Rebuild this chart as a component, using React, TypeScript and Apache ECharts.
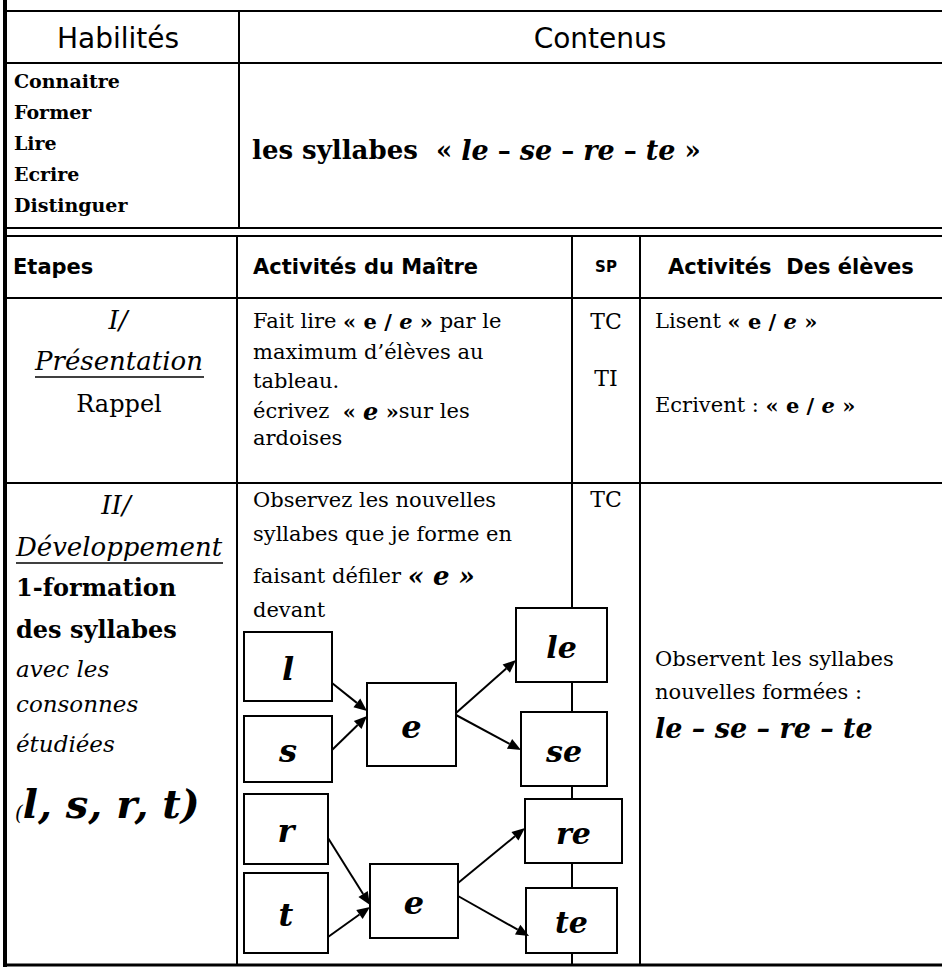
import React, { useEffect, useRef } from "react";
import * as echarts from "echarts";

const headerTitles = ["Habilités", "Contenus"];
const habiletes = ["Connaitre", "Former", "Lire", "Ecrire", "Distinguer"];
const colHeaders = ["Etapes", "Activités du Maître", "SP", "Activités  Des élèves"];
const consonants = ["l", "s", "r", "t"];
const vowel = "e";
const syllables = ["le", "se", "re", "te"];
const spRow1 = ["TC", "TI"];
const spRow2 = ["TC"];

const HEAD = '"DejaVu Sans", sans-serif';
const BODY = '"DejaVu Serif", serif';
const SCRIPT = '"DejaVu Serif", serif';

function txt(text: string, x: number, y: number, font: string, align = "left", extra: any = {}) {
  return {
    type: "text",
    z: 10,
    style: { text, x, y, font, fill: "#000", textAlign: align, textVerticalAlign: "middle", ...extra },
  };
}

function rich(parts: [string, string][], x: number, y: number, styles: Record<string, any>, align = "left") {
  const text = parts.map(([k, t]) => `{${k}|${t}}`).join("");
  return {
    type: "text",
    z: 10,
    style: { text, x, y, rich: styles, fill: "#000", textAlign: align, textVerticalAlign: "middle" },
  };
}

function hline(x1: number, x2: number, y: number, w = 2) {
  return { type: "line", z: 1, shape: { x1, y1: y, x2, y2: y }, style: { stroke: "#000", lineWidth: w } };
}
function vline(x: number, y1: number, y2: number, w = 2) {
  return { type: "line", z: 1, shape: { x1: x, y1, x2: x, y2 }, style: { stroke: "#000", lineWidth: w } };
}

function box(b: number[], label: string, fs = 30) {
  const [x, y, w, h] = b;
  return [
    { type: "rect", z: 5, shape: { x, y, width: w, height: h }, style: { fill: "#fff", stroke: "#000", lineWidth: 2 } },
    txt(label, x + w / 2, y + h / 2 + 2, `italic bold ${fs}px ${SCRIPT}`, "center"),
  ];
}

function arrow(a: number[]) {
  const [x1, y1, x2, y2] = a;
  const dx = x2 - x1, dy = y2 - y1;
  const L = Math.hypot(dx, dy);
  const ux = dx / L, uy = dy / L;
  const hl = 13, hw = 5.5;
  const bx = x2 - ux * hl, by = y2 - uy * hl;
  return [
    { type: "line", z: 6, shape: { x1, y1, x2: bx, y2: by }, style: { stroke: "#000", lineWidth: 2 } },
    {
      type: "polygon", z: 6,
      shape: { points: [[x2, y2], [bx - uy * hw, by + ux * hw], [bx + uy * hw, by - ux * hw]] },
      style: { fill: "#000" },
    },
  ];
}

const consBoxes = [[244, 632, 88, 69], [244, 716, 88, 66], [244, 794, 84, 70], [244, 873, 84, 80]];
const vowelBoxes = [[367, 683, 89, 83], [370, 864, 88, 74]];
const syllBoxes = [[516, 608, 91, 74], [521, 712, 86, 74], [525, 799, 97, 64], [526, 888, 91, 65]];
const arrows = [
  [332, 683, 367, 711],
  [332, 750, 367, 716],
  [456, 713, 516, 660],
  [456, 715, 521, 750],
  [328, 838, 370, 905],
  [328, 937, 370, 907],
  [458, 883, 525, 828],
  [458, 896, 529, 936],
];

export default function App() {
  const ref = useRef<HTMLDivElement>(null);
  useEffect(() => {
    const chart = echarts.init(ref.current!, null, { renderer: "svg" });
    const rs = 21;
    const R = { font: `${rs}px ${BODY}` };
    const B = { font: `bold ${rs}px ${BODY}` };
    const BI = { font: `italic bold ${rs}px ${BODY}` };
    const S = { font: `italic bold ${rs + 3}px ${SCRIPT}` };
    const HF = `bold 21px ${HEAD}`;

    const els: any[] = [
      // frame
      vline(5, 0, 967, 4),
      hline(5, 942, 11),
      hline(5, 942, 63),
      vline(239, 11, 228),
      hline(5, 942, 228),
      hline(5, 942, 236),
      vline(237, 236, 966),
      vline(572, 236, 966),
      vline(640, 236, 966),
      hline(5, 942, 298),
      hline(5, 942, 483),
      hline(5, 942, 965, 3),
      // header
      txt(headerTitles[0], 118, 38, `28px ${HEAD}`, "center"),
      txt(headerTitles[1], 600, 38, `28px ${HEAD}`, "center"),
      ...habiletes.map((h, i) => txt(h, 14, 81 + i * 31, `bold 19px ${BODY}`)),
      rich(
        [["a", "les syllabes  « "], ["s", "le"], ["a", " – "], ["s", "se"], ["a", " – "], ["s", "re"], ["a", " – "], ["s", "te"], ["a", " »"]],
        252, 150,
        { a: { font: `bold 26px ${BODY}` }, s: { font: `italic bold 27px ${SCRIPT}` } }
      ),
      // column headers
      txt(colHeaders[0], 13, 267, HF),
      txt(colHeaders[1], 253, 267, HF),
      txt(colHeaders[2], 606, 267, `bold 15px ${HEAD}`, "center"),
      txt(colHeaders[3], 668, 267, HF),
      // row 1
      txt("I/", 118, 320, `italic 26px ${BODY}`, "center"),
      txt("Présentation", 119, 361, `italic 26px ${BODY}`, "center"),
      hline(35, 204, 377, 1.5),
      txt("Rappel", 119, 404, `24px ${BODY}`, "center"),
      rich([["r", "Fait lire "], ["b", "« e / "], ["bi", "e"], ["b", " »"], ["r", " par le"]], 253, 321, { r: R, b: B, bi: BI }),
      txt("maximum d’élèves au", 253, 352, `${rs}px ${BODY}`),
      txt("tableau.", 253, 381, `${rs}px ${BODY}`),
      rich([["r", "écrivez  "], ["b", "« "], ["s", "e"], ["b", " »"], ["r", "sur les"]], 253, 411, { r: R, b: B, s: S }),
      txt("ardoises", 253, 438, `${rs}px ${BODY}`),
      txt(spRow1[0], 606, 321, `${rs + 1}px ${BODY}`, "center"),
      txt(spRow1[1], 606, 378, `${rs + 1}px ${BODY}`, "center"),
      rich([["r", "Lisent "], ["b", "« e / "], ["bi", "e"], ["b", " »"]], 655, 321, { r: R, b: B, bi: BI }),
      rich([["r", "Ecrivent : "], ["b", "« e / "], ["bi", "e"], ["b", " »"]], 655, 405, { r: R, b: B, bi: BI }),
      // row 2 col 1
      txt("II/", 116, 505, `italic 26px ${BODY}`, "center"),
      txt("Développement", 119, 547, `italic 26px ${BODY}`, "center"),
      hline(16, 223, 563, 1.5),
      txt("1-formation", 16, 587, `bold 24px ${BODY}`),
      txt("des syllabes", 16, 629, `bold 24px ${BODY}`),
      txt("avec les", 16, 669, `italic 23px ${BODY}`),
      txt("consonnes", 16, 704, `italic 23px ${BODY}`),
      txt("étudiées", 16, 744, `italic 23px ${BODY}`),
      rich(
        [["p", "("], ["s", "l, s, r, t)"]],
        15, 803,
        { p: { font: `italic 20px ${BODY}`, verticalAlign: "bottom" }, s: { font: `italic bold 40px ${SCRIPT}` } }
      ),
      // row 2 col 2
      txt("Observez les nouvelles", 253, 500, `${rs}px ${BODY}`),
      txt("syllabes que je forme en", 253, 534, `${rs}px ${BODY}`),
      rich([["r", "faisant défiler "], ["s", "« e »"]], 253, 576, { r: R, s: { font: `italic bold 26px ${SCRIPT}` } }),
      txt("devant", 253, 610, `${rs}px ${BODY}`),
      txt(spRow2[0], 606, 499, `${rs + 1}px ${BODY}`, "center"),
      // row 2 col 4
      txt("Observent les syllabes", 655, 659, `${rs}px ${BODY}`),
      txt("nouvelles formées :", 655, 692, `${rs}px ${BODY}`),
      txt(syllables.join(" – "), 655, 728, `italic bold 27px ${SCRIPT}`),
    ];

    consBoxes.forEach((b, i) => els.push(...box(b, consonants[i], 32)));
    vowelBoxes.forEach((b) => els.push(...box(b, vowel, 32)));
    syllBoxes.forEach((b, i) => els.push(...box(b, syllables[i], 30)));
    arrows.forEach((a) => els.push(...arrow(a)));

    chart.setOption({ animation: false, graphic: { elements: els } });
    return () => chart.dispose();
  }, []);
  return (
    <div
      ref={ref}
      style={{ position: "absolute", left: 0, top: 0, width: 942, height: 968, background: "#fff" }}
    />
  );
}
